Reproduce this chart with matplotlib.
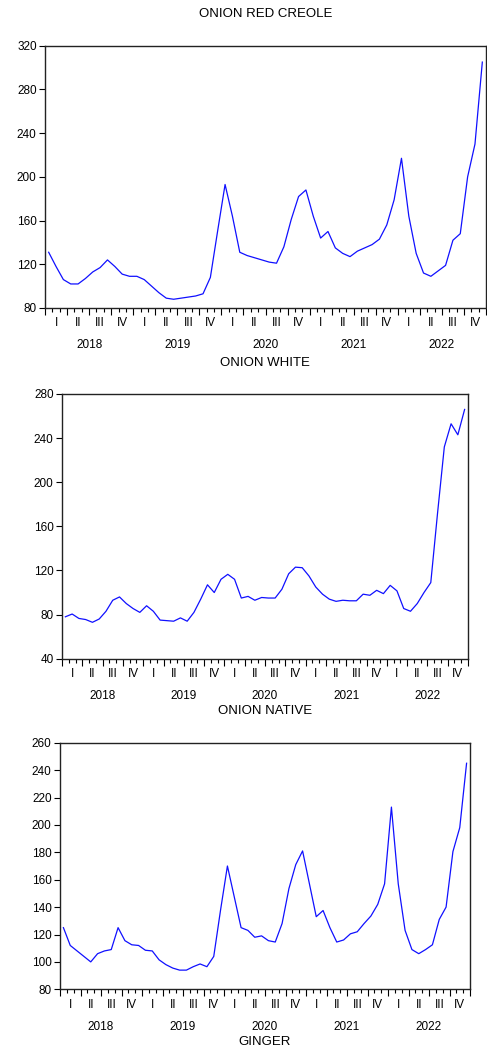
import matplotlib
matplotlib.use('Agg')
import matplotlib.pyplot as plt
import numpy as np

plt.rcParams['font.family'] = ['Liberation Sans', 'DejaVu Sans']

# monthly prices, Jan 2018 - Dec 2022
red_creole = [131, 118, 106, 102, 102, 107, 113, 117, 124, 118, 111, 109,
              109, 106, 100, 94, 89, 88, 89, 90, 91, 93, 108, 151,
              193, 164, 131, 128, 126, 124, 122, 121, 136, 161, 182, 188,
              164, 144, 150, 135, 130, 127, 132, 135, 138, 143, 156, 179,
              217, 164, 130, 112, 109, 114, 119, 142, 148, 200, 230, 305]

white = [78, 80.5, 76.5, 75.5, 73, 76, 83, 93, 96, 90, 85.5, 82,
         88, 83, 75, 74.5, 74, 77, 74, 82, 94, 107, 100, 112,
         116.5, 112, 95, 96.5, 93, 95.5, 95, 95, 103, 117, 123, 122.5,
         115, 105, 98.5, 94, 92, 93, 92.5, 92.5, 98.5, 97.5, 102, 99,
         106.5, 101.5, 85.5, 83, 90, 100, 109, 172, 232, 253, 243, 266]

native = [125, 112, 108, 104, 100, 106, 108, 109, 125, 115.5, 112.5, 112,
          108.5, 108, 101.5, 98, 95.5, 94, 94, 96.5, 98.5, 96.5, 104, 138,
          170, 147.5, 125, 123, 118, 119, 115.5, 114.5, 128, 153.5, 171, 181,
          157, 133, 137.5, 125, 114.5, 116, 120.5, 122, 128, 133.5, 142, 157,
          213, 157, 123, 109, 106, 109, 112.5, 131, 140, 180.5, 198, 245]

quarter_names = ['I', 'II', 'III', 'IV']
years = ['2018', '2019', '2020', '2021', '2022']

titles = ['ONION RED CREOLE', 'ONION WHITE', 'ONION NATIVE']
series = [red_creole, white, native]
yticks = [np.arange(80, 321, 40), np.arange(40, 281, 40), np.arange(80, 261, 20)]
ylims = [(80, 320), (40, 280), (80, 260)]

W, H = 487, 1050
# left, right, top, bottom in pixels
boxes = [(45, 486, 45.7, 308), (62, 468, 394, 658.7), (60, 470, 742.7, 989.3)]

fig = plt.figure(figsize=(W / 100, H / 100), dpi=100)

for k in range(3):
    l, r, t, b = boxes[k]
    ax = fig.add_axes([l / W, 1 - b / H, (r - l) / W, (b - t) / H])
    x = np.arange(60) + 0.5
    ax.plot(x, series[k], color='#1010ff', lw=0.9)
    ax.set_xlim(0, 60)
    ax.set_ylim(*ylims[k])
    ax.set_yticks(yticks[k])
    ax.set_yticklabels([str(v) for v in yticks[k]])
    ax.set_xticks(np.arange(0, 61, 3))
    ax.set_xticks(np.arange(0, 61, 1), minor=True)
    ax.set_xticklabels([])
    ax.tick_params(axis='x', which='major', direction='out', length=5, width=0.8)
    ax.tick_params(axis='x', which='minor', direction='out', length=3, width=0.8)
    ax.tick_params(axis='y', direction='out', length=4, width=0.8, pad=2, labelsize=8.5)
    for s in ax.spines.values():
        s.set_linewidth(1.0)
        s.set_color('#222222')

    # quarter and year labels under the axis
    for q in range(20):
        ax.annotate(quarter_names[q % 4], xy=(q * 3 + 1.5, 0), xycoords=('data', 'axes fraction'),
                    xytext=(0, -11), textcoords='offset points', ha='center', va='center', fontsize=8.5)
    for j in range(5):
        ax.annotate(years[j], xy=(j * 12 + 6, 0), xycoords=('data', 'axes fraction'),
                    xytext=(0, -27), textcoords='offset points', ha='center', va='center', fontsize=8.5)

    fig.text(((l + r) / 2) / W, 1 - (t - 31.5) / H, titles[k], ha='center', va='center', fontsize=9.5)

fig.text(265 / W, 1 - 1042 / H, 'GINGER', ha='center', va='center', fontsize=9.5)

fig.savefig('out.png', dpi=100)
